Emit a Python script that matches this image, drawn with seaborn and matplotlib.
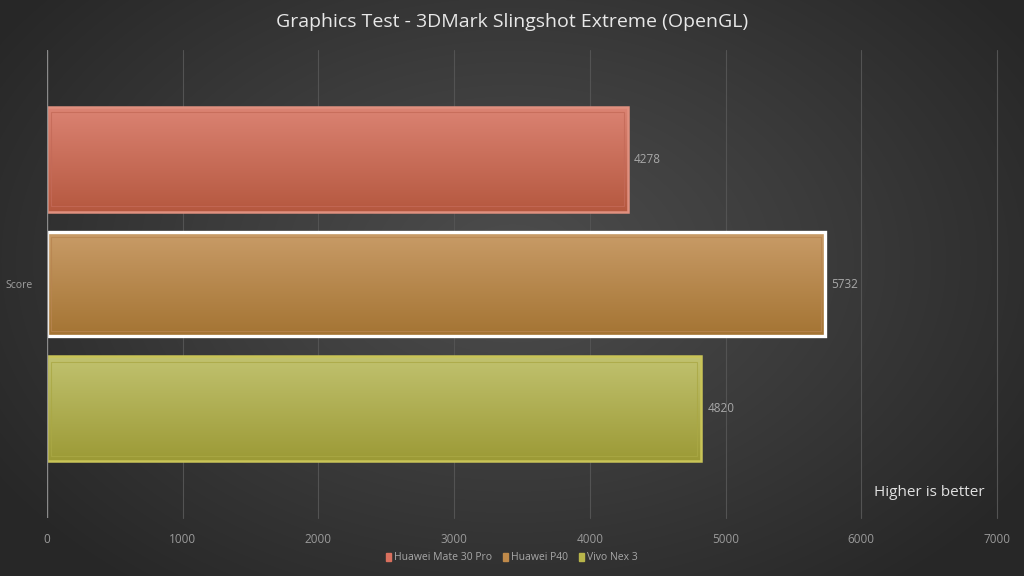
import numpy as np
import pandas as pd
import matplotlib
matplotlib.use('Agg')
import matplotlib.pyplot as plt
import seaborn as sns
from matplotlib.patches import Patch, Rectangle
from matplotlib.colors import LinearSegmentedColormap

# data
phones = ['Huawei Mate 30 Pro', 'Huawei P40', 'Vivo Nex 3']
scores = [4278, 5732, 4820]
metric = 'Score'
x_ticks = [0, 1000, 2000, 3000, 4000, 5000, 6000, 7000]

# gradient colours per bar (top, bottom), edge colours
top_colors = ['#db8373', '#c99c68', '#c1c26f']
bottom_colors = ['#b5583f', '#a47433', '#9c9a36']
edge_colors = ['#e0907f', '#ffffff', '#c9c457']
inner_colors = ['#c46a58', '#b88550', '#aaa845']
legend_colors = ['#d9705e', '#c08a4a', '#b8b54a']

df = pd.DataFrame({'metric': [metric] * len(phones), 'phone': phones, 'score': scores})

sns.set_theme(style='dark')
plt.rcParams['font.family'] = ['Open Sans', 'DejaVu Sans']

fig = plt.figure(figsize=(10.24, 5.76), dpi=100)

# radial background
bg = fig.add_axes([0, 0, 1, 1], zorder=-10)
yy, xx = np.mgrid[0:576, 0:1024]
r = np.sqrt(((xx - 512) / 620.0) ** 2 + ((yy - 260) / 420.0) ** 2)
r = np.clip(r, 0, 1)
bg_cmap = LinearSegmentedColormap.from_list('bg', ['#4d4d4d', '#3b3b3b', '#272727'])
bg.imshow(r, cmap=bg_cmap, aspect='auto', extent=[0, 1, 0, 1], vmin=0, vmax=1)
bg.axis('off')

ax = fig.add_axes([47 / 1024, 1 - 518 / 576, 950 / 1024, 468 / 576])
ax.patch.set_alpha(0)

sns.barplot(data=df, y='metric', x='score', hue='phone', hue_order=phones,
            palette=legend_colors, orient='h', width=0.8, gap=0.16,
            legend=False, ax=ax)

ax.set_xlim(0, 7000)
ax.set_ylim(0.5, -0.5)

# gradient fill inside each bar
for i, p in enumerate(ax.patches[:len(phones)]):
    x0, y0 = p.get_x(), p.get_y()
    w, h = p.get_width(), p.get_height()
    cm = LinearSegmentedColormap.from_list('g%d' % i, [top_colors[i], bottom_colors[i]])
    grad = np.linspace(0, 1, 256).reshape(-1, 1)
    im = ax.imshow(grad, cmap=cm, aspect='auto', extent=[x0, x0 + w, y0 + h, y0],
                   zorder=2, interpolation='bicubic')
    im.set_clip_path(p)
    p.set_facecolor('none')
    p.set_edgecolor(edge_colors[i])
    p.set_linewidth(2.4 if i == 1 else 1.8)
    p.set_zorder(3)
    # inner bevel line
    dx, dy = 30, 0.012
    ax.add_patch(Rectangle((x0 + dx, y0 + dy), w - 2 * dx, h - 2 * dy, fill=False,
                           edgecolor=inner_colors[i], lw=0.8, alpha=0.8, zorder=3))
    ax.text(x0 + w + 45, y0 + h / 2, str(scores[i]), color='#a8a8a8',
            fontsize=8.5, va='center', ha='left')

ax.set_xlim(0, 7000)
ax.set_ylim(0.5, -0.5)
ax.set_xticks(x_ticks)
ax.set_xticklabels([str(t) for t in x_ticks], color='#9a9a9a', fontsize=8.5)
ax.tick_params(axis='x', length=0, pad=11)
ax.tick_params(axis='y', length=0, pad=10, labelsize=7.5, labelcolor='#a0a0a0')
ax.set_xlabel('')
ax.set_ylabel('')

ax.grid(False)
for t in x_ticks[1:]:
    ax.axvline(t, color='#535353', lw=0.8, zorder=0, clip_on=False)
ax.axvline(0, color='#8a8a8a', lw=1.0, zorder=4)
for s in ax.spines.values():
    s.set_visible(False)

fig.text(0.5, 1 - 22 / 576, 'Graphics Test - 3DMark Slingshot Extreme (OpenGL)',
         ha='center', va='center', color='#e8e8e8', fontsize=14)
fig.text(985 / 1024, 1 - 492 / 576, 'Higher is better', ha='right', va='center',
         color='#e0e0e0', fontsize=11)

handles = [Patch(facecolor=c, edgecolor=c) for c in legend_colors]
fig.legend(handles, phones, loc='center', bbox_to_anchor=(0.5, 1 - 558 / 576),
           ncol=3, frameon=False, fontsize=7.5, labelcolor='#a8a8a8',
           handlelength=0.5, handleheight=0.9, handletextpad=0.3, columnspacing=1.0)

fig.savefig('out.png', dpi=100)
plt.close(fig)
